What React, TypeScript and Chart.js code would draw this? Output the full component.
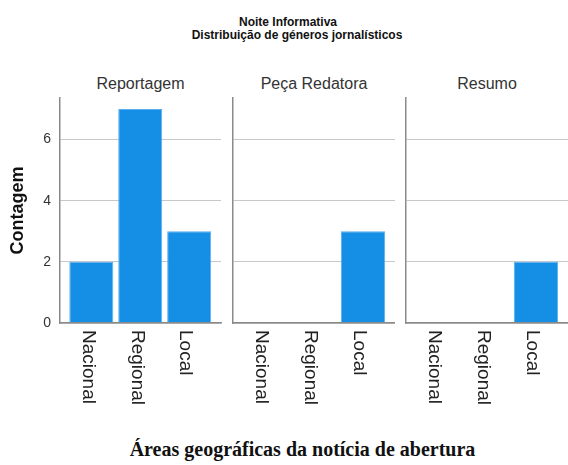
import React, { useEffect, useRef } from 'react';
import { Chart, registerables } from 'chart.js';

Chart.register(...registerables);

const titleLines = ['Noite Informativa', 'Distribuição de géneros jornalísticos'];
const panelTitles = ['Reportagem', 'Peça Redatora', 'Resumo'];
const categories = ['Nacional', 'Regional', 'Local'];
const reportagemValues = [2, 7, 3];
const pecaRedatoraValues = [0, 0, 3];
const resumoValues = [0, 0, 2];
const yTicks = [0, 2, 4, 6];
const yAxisTitle = 'Contagem';
const xAxisTitle = 'Áreas geográficas da notícia de abertura';

const SANS = '"Liberation Sans", Arial, sans-serif';
const SERIF = '"Liberation Serif", "Times New Roman", serif';
const BAR_COLOR = '#148fe5';
const BAR_EDGE = '#5aaff0';
const AXIS_COLOR = '#8a8a8a';
const GRID_COLOR = '#c8c8c8';

const xLabelPlugin = {
  id: 'rotatedXLabels',
  afterDraw(chart: any) {
    const { ctx, chartArea } = chart;
    const xs = chart.scales.x;
    ctx.save();
    ctx.font = '19px ' + SANS;
    ctx.fillStyle = '#222';
    ctx.textAlign = 'left';
    ctx.textBaseline = 'middle';
    categories.forEach((c, i) => {
      const px = xs.getPixelForValue(i);
      ctx.save();
      ctx.translate(px - 3.5, chartArea.bottom + 7);
      ctx.rotate(Math.PI / 2);
      ctx.fillText(c, 0, 0);
      ctx.restore();
    });
    ctx.restore();
  },
};

type PanelProps = { left: number; width: number; values: number[]; first: boolean };

function Panel({ left, width, values, first }: PanelProps) {
  const ref = useRef<HTMLCanvasElement>(null);
  useEffect(() => {
    const chart = new Chart(ref.current as HTMLCanvasElement, {
      type: 'bar',
      data: {
        datasets: [
          {
            data: categories.map((c, i) => ({ x: i, y: values[i] })) as any,
            backgroundColor: BAR_COLOR,
            borderColor: BAR_EDGE,
            borderWidth: (ctx: any) => (ctx.raw && ctx.raw.y > 0 ? 1 : 0),
            barPercentage: 0.9,
            categoryPercentage: 1,
          },
        ],
      },
      options: {
        animation: false,
        responsive: false,
        maintainAspectRatio: false,
        layout: { padding: { top: 8, left: first ? 0 : 2, right: first ? 1 : 0, bottom: 0 } },
        plugins: {
          legend: { display: false },
          tooltip: { enabled: false },
          title: { display: false },
        },
        scales: {
          x: {
            type: 'linear',
            min: -0.64,
            max: 2.65,
            offset: false,
            bounds: 'data',
            afterBuildTicks: (s: any) => {
              s.ticks = categories.map((c, i) => ({ value: i }));
            },
            grid: { display: false, offset: false },
            ticks: { display: false, includeBounds: false },
            border: { display: true, color: AXIS_COLOR, width: 1.5, z: 1 },
            afterFit: (s: any) => {
              s.height = 96;
              s.paddingLeft = 0;
              s.paddingRight = 0;
            },
          },
          y: {
            type: 'linear',
            min: 0,
            max: 7.36,
            offset: false,
            bounds: 'data',
            grace: 0,
            afterBuildTicks: (s: any) => {
              s.ticks = yTicks.map((v) => ({ value: v }));
            },
            grid: { color: GRID_COLOR, lineWidth: 1, drawTicks: false },
            border: { display: true, color: AXIS_COLOR, width: 1.5 },
            ticks: {
              display: first,
              includeBounds: false,
              padding: 9,
              color: '#333',
              font: { family: SANS, size: 14 },
            },
            title: {
              display: first,
              text: yAxisTitle,
              color: '#111',
              padding: { top: 7, bottom: 0 },
              font: { family: SANS, size: 18, weight: 'bold' },
            },
            afterFit: (s: any) => {
              s.width = first ? 60 : 0;
              s.paddingTop = 0;
              s.paddingBottom = 0;
            },
          },
        },
      } as any,
      plugins: [xLabelPlugin],
    });
    return () => chart.destroy();
  }, []);
  return (
    <canvas
      ref={ref}
      width={width}
      height={329}
      style={{ position: 'absolute', left, top: 90, width, height: 329 }}
    />
  );
}

const panelValues = [reportagemValues, pecaRedatoraValues, resumoValues];
const panelLayout = [
  { left: 0, width: 222, center: 140.5 },
  { left: 231, width: 164, center: 314 },
  { left: 404, width: 164, center: 487 },
];

const textBase = {
  position: 'absolute' as const,
  textAlign: 'center' as const,
  whiteSpace: 'nowrap' as const,
};

export default function App() {
  return (
    <div
      style={{
        position: 'fixed',
        left: 0,
        top: 0,
        width: 568,
        height: 465,
        background: '#fff',
        overflow: 'hidden',
      }}
    >
      <div
        style={{
          ...textBase,
          left: 88,
          top: 16,
          width: 400,
          font: 'bold 12px ' + SANS,
          lineHeight: '13px',
          color: '#111',
        }}
      >
        {titleLines[0]}
      </div>
      <div
        style={{
          ...textBase,
          left: 97,
          top: 29,
          width: 400,
          font: 'bold 12px ' + SANS,
          lineHeight: '13px',
          color: '#111',
        }}
      >
        {titleLines[1]}
      </div>
      {panelTitles.map((t, i) => (
        <div
          key={t}
          style={{
            ...textBase,
            left: panelLayout[i].center - 100,
            top: 75.5,
            width: 200,
            font: '16px ' + SANS,
            lineHeight: '16px',
            color: '#333',
          }}
        >
          {t}
        </div>
      ))}
      {panelTitles.map((t, i) => (
        <Panel
          key={'p' + t}
          left={panelLayout[i].left}
          width={panelLayout[i].width}
          values={panelValues[i]}
          first={i === 0}
        />
      ))}
      <div
        style={{
          ...textBase,
          left: 302.5 - 250,
          top: 439,
          width: 500,
          font: 'bold 20px ' + SERIF,
          lineHeight: '20px',
          color: '#111',
        }}
      >
        {xAxisTitle}
      </div>
    </div>
  );
}
